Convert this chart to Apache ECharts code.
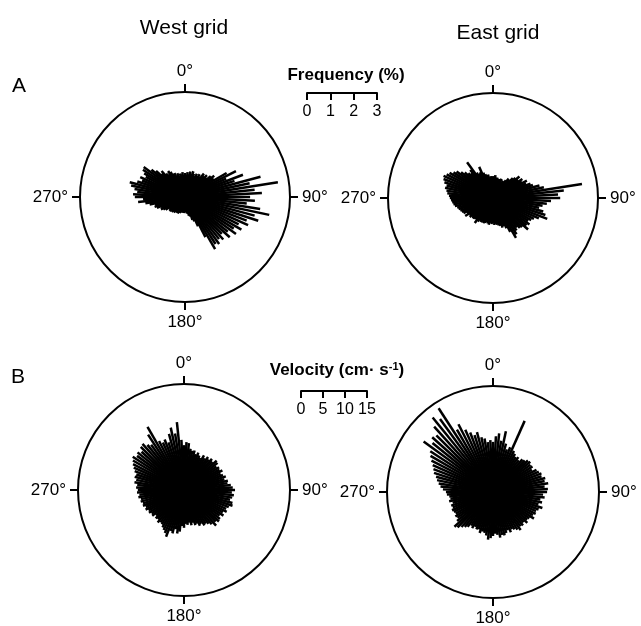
<!DOCTYPE html>
<html><head><meta charset="utf-8">
<script src="https://cdn.jsdelivr.net/npm/echarts@6/dist/echarts.min.js"></script>
<style>html,body{margin:0;padding:0;background:#fff}#chart{width:641px;height:626px}</style>
</head><body><div id="chart"></div>
<script>
// Direction bins (degrees, 0 = north, clockwise)
const binAngles = [0,3,6,9,12,15,18,21,24,27,30,33,36,39,42,45,48,51,54,57,
  60,63,66,69,72,75,78,81,84,87,90,93,96,99,102,105,108,111,114,117,
  120,123,126,129,132,135,138,141,144,147,150,153,156,159,162,165,168,171,174,177,
  180,183,186,189,192,195,198,201,204,207,210,213,216,219,222,225,228,231,234,237,
  240,243,246,249,252,255,258,261,264,267,270,273,276,279,282,285,288,291,294,297,
  300,303,306,309,312,315,318,321,324,327,330,333,336,339,342,345,348,351,354,357];

// A: frequency (%) per direction
const westFreq = [1.03,0.94,1.07,0.99,1.12,1.03,1.16,1.07,0.99,1.12,1.03,1.16,1.07,1.29,1.20,1.33,1.24,1.42,1.55,1.46,
  2.06,2.45,1.93,2.66,2.23,3.35,2.83,4.03,3.00,3.30,2.79,3.00,2.66,3.26,3.69,3.09,3.30,2.83,2.96,2.58,
  2.79,2.49,2.70,2.36,2.58,2.23,2.45,2.32,2.49,2.40,2.58,1.93,1.37,1.12,1.03,0.86,0.82,0.73,0.69,0.64,
  0.64,0.69,0.60,0.64,0.69,0.64,0.73,0.69,0.77,0.73,0.77,0.73,0.82,0.77,0.86,0.82,0.90,0.86,0.82,0.99,
  1.07,1.16,1.12,1.29,1.37,1.33,1.55,1.72,2.02,1.80,2.15,2.23,2.06,2.19,2.36,2.45,2.15,1.97,2.10,1.89,
  2.02,2.15,2.19,1.85,1.67,1.42,1.50,1.29,1.20,1.33,1.24,1.12,1.12,0.99,1.07,0.94,1.03,0.99,1.07,0.94];
const eastFreq = [0.94,0.86,0.99,0.82,0.90,0.77,0.86,0.82,0.90,0.77,0.86,0.82,0.94,1.07,1.03,1.20,1.29,1.46,1.33,1.50,
  1.42,1.63,1.55,1.72,1.80,2.06,2.23,3.86,3.05,2.79,2.88,2.49,2.32,2.15,2.02,2.23,2.36,2.49,2.15,1.97,
  1.89,1.80,1.93,1.85,2.02,1.76,1.72,1.63,1.72,1.85,1.97,1.63,1.42,1.29,1.33,1.24,1.20,1.16,1.12,1.16,
  1.07,1.12,1.07,1.16,1.12,1.07,1.12,1.16,1.12,1.16,1.12,1.20,1.33,1.16,1.20,1.24,1.20,1.29,1.24,1.42,
  1.29,1.42,1.46,1.50,1.55,1.59,1.67,1.72,1.76,1.80,1.85,1.89,1.97,2.02,2.10,2.06,2.19,2.27,2.32,2.23,
  2.15,2.02,1.93,1.76,1.63,1.50,1.42,1.55,1.89,1.29,1.20,1.24,1.46,1.16,1.07,0.99,1.03,0.90,0.94,0.86];

// B: velocity (cm/s) per direction
const westVel = [10.2,10.9,10.7,9.5,9.1,9.3,8.6,9.1,8.6,8.2,9.1,8.6,9.3,8.9,9.5,9.1,10.0,9.8,9.1,9.5,
  9.3,9.8,9.1,9.5,10.0,9.5,10.2,10.0,10.7,11.1,11.6,10.9,11.4,11.1,10.7,11.4,11.6,10.9,10.5,10.9,
  10.2,10.7,10.0,10.5,10.7,10.2,10.9,10.0,9.5,9.1,9.3,8.6,8.9,8.2,8.4,7.7,8.2,7.5,8.0,7.7,
  8.6,8.2,9.5,10.0,9.1,10.2,9.8,11.4,10.7,10.2,9.8,9.3,9.1,9.5,8.9,9.1,8.6,9.3,9.1,9.5,
  9.3,9.8,9.5,10.0,9.8,10.2,10.0,10.5,10.2,10.7,10.5,10.9,10.7,11.4,11.1,11.6,11.4,12.0,12.5,13.0,
  13.4,13.9,13.2,13.6,13.0,13.9,14.1,13.2,12.7,15.0,16.6,12.5,11.8,12.3,11.4,13.2,14.5,13.0,15.5,11.4];
const eastVel = [11.4,12.7,13.4,11.8,14.1,11.4,10.2,10.9,17.7,10.5,10.0,9.5,9.8,9.3,10.0,10.2,10.7,10.9,10.5,10.7,
  10.2,11.1,11.4,11.8,11.6,12.3,12.0,12.7,11.8,12.5,12.3,11.4,11.8,10.9,11.4,10.7,11.8,11.1,10.7,10.9,
  10.5,11.1,10.2,10.0,10.5,9.8,10.2,10.0,10.7,10.2,9.8,9.5,10.0,9.3,9.8,10.2,10.0,10.5,9.8,9.5,
  10.0,10.5,10.9,10.0,9.5,9.3,9.8,9.1,9.3,8.9,9.5,9.1,9.8,10.2,10.7,11.4,11.8,10.5,10.0,10.2,
  9.8,10.0,10.2,9.8,10.0,9.5,10.2,9.8,10.0,10.5,10.7,11.4,12.0,12.5,13.0,13.4,14.1,14.5,15.0,15.7,
  16.4,17.0,19.5,17.7,18.6,18.2,20.0,21.8,20.5,22.7,16.4,17.3,15.5,14.5,13.6,14.1,12.7,12.3,11.4,11.8];

const freqTicks = [0, 1, 2, 3];
const velTicks = [0, 5, 10, 15];
const columnTitles = ['West grid', 'East grid'];
const rowLabels = ['A', 'B'];
const freqTitle = 'Frequency (%)';

const FONT = '"Liberation Sans", Arial, Helvetica, sans-serif';
const chart = echarts.init(document.getElementById('chart'), null, {renderer: 'canvas'});

const panels = [
  {values: westFreq, max: 4.5, center: [185, 197], radius: 105},
  {values: eastFreq, max: 4.5, center: [493, 198], radius: 105},
  {values: westVel, max: 24.1, center: [184, 490], radius: 106},
  {values: eastVel, max: 24.1, center: [493, 492], radius: 106}
];

const scaleAxis = (gi, ticks, step) => ({
  gridIndex: gi, type: 'value', min: ticks[0], max: ticks[ticks.length - 1], interval: step,
  axisLine: {show: true, lineStyle: {color: '#000', width: 2}},
  axisTick: {show: true, length: 7, lineStyle: {color: '#000', width: 2}},
  axisLabel: {margin: 11, color: '#000', fontSize: 16, fontFamily: FONT},
  splitLine: {show: false}
});

const option = {
  animation: false,
  backgroundColor: '#fff',
  polar: panels.map(p => ({center: p.center, radius: p.radius})),
  angleAxis: panels.map((p, i) => ({
    polarIndex: i, type: 'value', min: 0, max: 360, interval: 90,
    startAngle: 90, clockwise: true,
    axisLine: {show: true, lineStyle: {color: '#000', width: 2}},
    axisTick: {show: true, length: 8, lineStyle: {color: '#000', width: 2}},
    axisLabel: {show: true, margin: 12, color: '#000', fontSize: 17, fontFamily: FONT,
      formatter: v => (v === 360 ? '' : v + '°')},
    splitLine: {show: false}
  })),
  radiusAxis: panels.map((p, i) => ({
    polarIndex: i, type: 'value', min: 0, max: p.max,
    axisLine: {show: false}, axisTick: {show: false}, axisLabel: {show: false}, splitLine: {show: false}
  })),
  grid: [
    {left: 307, top: 92, width: 70, height: 1},
    {left: 301, top: 390, width: 66, height: 1}
  ],
  xAxis: [scaleAxis(0, freqTicks, 1), scaleAxis(1, velTicks, 5)],
  yAxis: [{gridIndex: 0, show: false}, {gridIndex: 1, show: false}],
  graphic: [
    {type: 'text', x: 184, y: 28, style: {text: columnTitles[0], font: '21px ' + FONT, fill: '#000', align: 'center', verticalAlign: 'middle'}},
    {type: 'text', x: 498, y: 33, style: {text: columnTitles[1], font: '21px ' + FONT, fill: '#000', align: 'center', verticalAlign: 'middle'}},
    {type: 'text', x: 19, y: 86, style: {text: rowLabels[0], font: '21px ' + FONT, fill: '#000', align: 'center', verticalAlign: 'middle'}},
    {type: 'text', x: 18, y: 377, style: {text: rowLabels[1], font: '21px ' + FONT, fill: '#000', align: 'center', verticalAlign: 'middle'}},
    {type: 'text', x: 346, y: 75, style: {text: freqTitle, font: 'bold 17px ' + FONT, fill: '#000', align: 'center', verticalAlign: 'middle'}},
    {type: 'text', x: 337, y: 370, style: {
      text: 'Velocity (cm· s{sup|-1})', font: 'bold 17px ' + FONT, fill: '#000', align: 'center', verticalAlign: 'middle',
      rich: {sup: {fontSize: 11, fontWeight: 'bold', fontFamily: FONT, verticalAlign: 'top', fill: '#000'}}}}
  ],
  series: panels.map((p, i) => ({
    type: 'custom', coordinateSystem: 'polar', polarIndex: i, silent: true,
    encode: {radius: 0, angle: 1},
    data: p.values.map((v, k) => [v, binAngles[k]]),
    renderItem: (params, api) => {
      const c = api.coord([0, api.value(1)]);
      const e = api.coord([api.value(0), api.value(1)]);
      return {type: 'line', shape: {x1: c[0], y1: c[1], x2: e[0], y2: e[1]},
        style: {stroke: '#000', lineWidth: 2.5, lineCap: 'butt'}};
    }
  }))
};
chart.setOption(option);
</script></body></html>
